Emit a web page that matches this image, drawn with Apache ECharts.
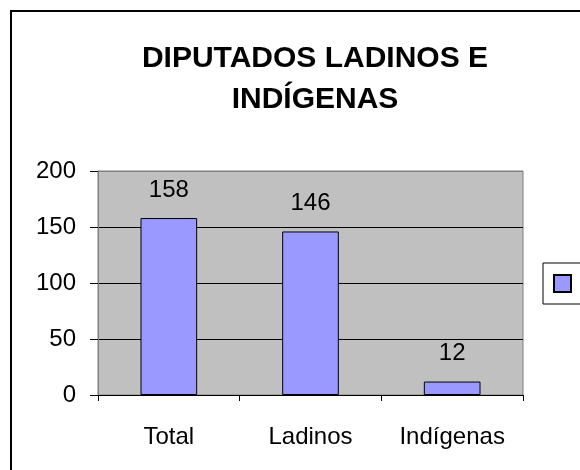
<!DOCTYPE html>
<html style="height: 100%">
<head>
    <meta charset="utf-8">
</head>
<body style="height: 100%; margin: 0; background: #fff">
<div id="container" style="width: 580px; height: 470px"></div>
<script type="text/javascript" src="https://cdn.jsdelivr.net/npm/echarts@6/dist/echarts.min.js"></script>
<script type="text/javascript">
    var categories = ['Total', 'Ladinos', 'Indígenas'];
    var diputados = [158, 146, 12];
    var yTicks = [0, 50, 100, 150, 200];

    var myChart = echarts.init(document.getElementById('container'));
    var font = '"Liberation Sans", Arial, sans-serif';

    var option = {
        backgroundColor: '#fff',
        animation: false,
        textStyle: { fontFamily: font },
        title: {
            text: 'DIPUTADOS LADINOS E\nINDÍGENAS',
            left: 310,
            top: 33,
            textAlign: 'center',
            textStyle: {
                fontFamily: font,
                fontWeight: 'bold',
                fontSize: 30,
                lineHeight: 41,
                color: '#000'
            }
        },
        graphic: [{
            type: 'rect',
            shape: { x: 11, y: 11, width: 700, height: 600 },
            style: { fill: 'none', stroke: '#000', lineWidth: 2 },
            z: 100
        }],
        legend: {
            left: 543,
            top: 263,
            orient: 'vertical',
            data: [' '],
            icon: 'rect',
            itemWidth: 17,
            itemHeight: 17,
            padding: [11, 40, 11, 10],
            backgroundColor: '#fff',
            borderColor: '#000',
            borderWidth: 1,
            formatter: function () { return ''; }
        },
        grid: {
            left: 98,
            right: 57,
            top: 171,
            bottom: 75,
            show: true,
            backgroundColor: '#C0C0C0',
            borderColor: '#808080',
            borderWidth: 1
        },
        xAxis: {
            type: 'category',
            data: categories,
            axisLine: { lineStyle: { color: '#000', width: 1 } },
            axisTick: { show: true, length: 6, lineStyle: { color: '#000' } },
            axisLabel: { fontSize: 24, color: '#000', margin: 30, fontFamily: font }
        },
        yAxis: {
            type: 'value',
            min: yTicks[0],
            max: yTicks[yTicks.length - 1],
            interval: yTicks[1] - yTicks[0],
            axisLine: { show: true, lineStyle: { color: '#808080' } },
            axisTick: { show: true, length: 8, lineStyle: { color: '#000' } },
            axisLabel: { fontSize: 24, color: '#000', margin: 22, fontFamily: font },
            splitLine: {
                show: true,
                lineStyle: { color: ['#000', '#000', '#000', '#000', '#808080'], width: 1 }
            }
        },
        series: [{
            name: ' ',
            type: 'bar',
            data: diputados,
            barWidth: '40%',
            itemStyle: { color: '#9999FF', borderColor: '#000', borderWidth: 1 },
            label: {
                show: true,
                position: 'top',
                distance: 16,
                fontSize: 24,
                color: '#000',
                fontFamily: font
            }
        }]
    };

    myChart.setOption(option);
</script>
</body>
</html>
